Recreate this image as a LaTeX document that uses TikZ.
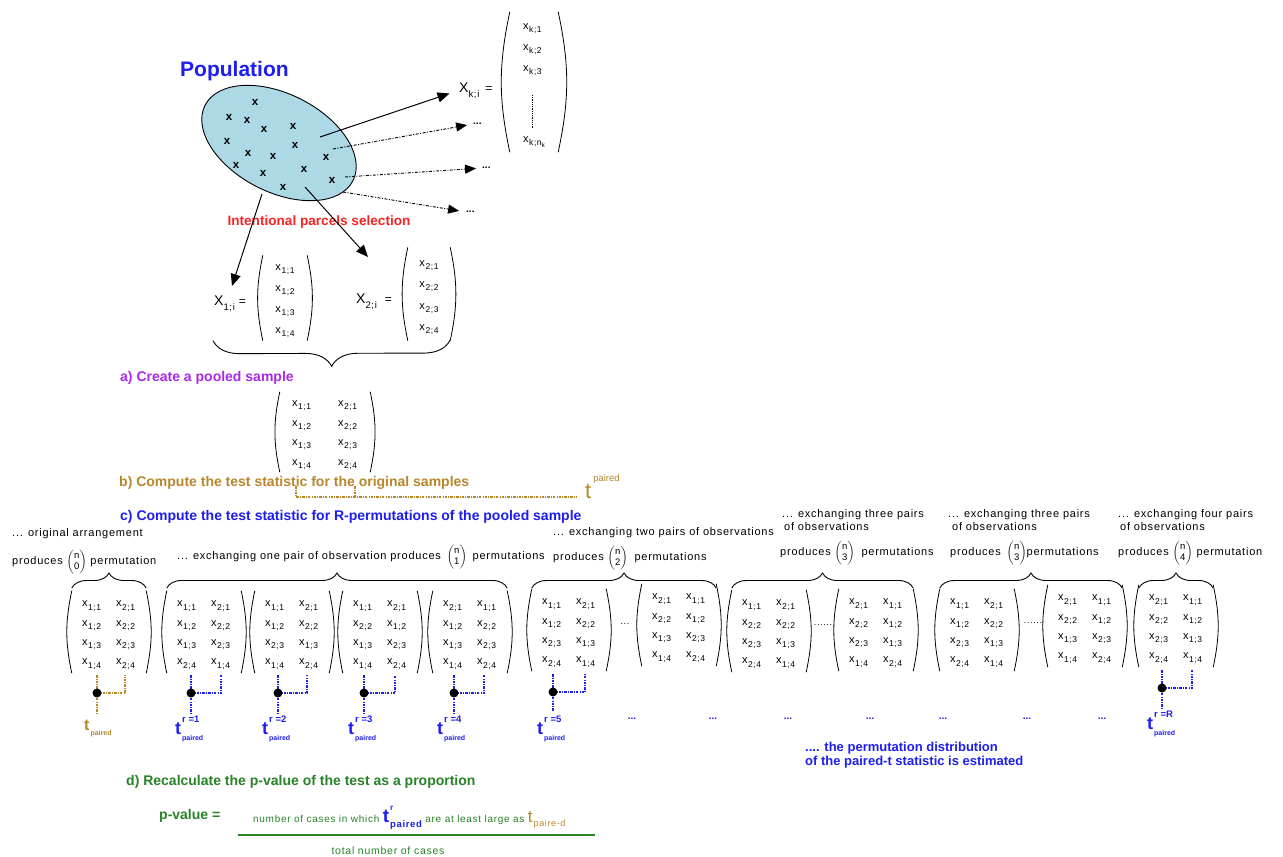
\documentclass[tikz,border=0pt]{standalone}
\usepackage{fontspec}
\setmainfont{Liberation Sans}
\newfontfamily\ls[LetterSpace=7]{Liberation Sans}
\usetikzlibrary{shapes.geometric,arrows.meta,decorations.pathreplacing,calc}
\definecolor{popblue}{RGB}{30,30,240}
\definecolor{selred}{RGB}{250,35,35}
\definecolor{purp}{RGB}{170,40,235}
\definecolor{tbrown}{RGB}{184,134,43}
\definecolor{dgreen}{RGB}{40,130,40}
\definecolor{ellfill}{RGB}{173,216,230}
\newcommand\xs[1]{{\fontsize{11}{11}\selectfont x}\kern0.6pt\raisebox{-3.2pt}{\fontsize{8.5}{8.5}\selectfont #1}}
\newcommand\mtwo[8]{\begin{tabular}{@{}p{34pt}@{}p{20pt}@{}}\xs{#1}&\xs{#2}\\\xs{#3}&\xs{#4}\\\xs{#5}&\xs{#6}\\\xs{#7}&\xs{#8}\end{tabular}}
\newcommand\bnm[1]{$\left(\vcenter{\hbox{\fontsize{9.5}{11}\selectfont\begin{tabular}{@{}c@{}}n\\#1\end{tabular}}}\right)$}
\newcommand\tlab[2]{{\fontsize{18}{18}\selectfont t}\kern1pt\rlap{\raisebox{12pt}{\fontsize{9.5}{9.5}\selectfont #1}}\raisebox{-6pt}{\fontsize{7}{7}\selectfont #2}}
\begin{document}
\begin{tikzpicture}[x=1pt,y=-1pt,
  every node/.style={inner sep=0pt},
  pline/.style={draw=black, line width=0.8pt},
  pmat/.style={append after command={(\tikzlastnode.north west) edge[pline, bend right=#1] (\tikzlastnode.south west) (\tikzlastnode.north east) edge[pline, bend left=#1] (\tikzlastnode.south east)}},
  pmat/.default=12,
  rowmat/.style={pmat, minimum width=74, minimum height=82, font=\ls\fontsize{10}{19.3}\selectfont},
  colmat/.style={pmat, font=\ls\fontsize{10}{21}\selectfont},
  brc/.style={decorate, decoration={brace, amplitude=15pt}, line width=0.9pt},
  solidarr/.style={line width=1pt, -{Triangle[length=12pt,width=10pt]}},
  dotarr/.style={line width=0.9pt, dash pattern=on 3pt off 1.5pt on 1pt off 1.5pt, -{Triangle[length=11pt,width=9pt]}},
  tl/.style={line width=1.5pt, dash pattern=on 2.5pt off 1.2pt on 0.8pt off 1.2pt},
  dotn/.style={circle, fill=black, minimum size=9pt},
  hdr/.style={anchor=west, font=\ls\fontsize{11}{12}\selectfont},
  bigl/.style={anchor=west, font=\bfseries\fontsize{14}{16}\selectfont},
  xm/.style={font=\bfseries\fontsize{11.5}{11.5}\selectfont},
  dd/.style={anchor=west, font=\bfseries\fontsize{10}{10}\selectfont},
  bdash/.style={text=popblue, font=\bfseries\fontsize{10}{10}\selectfont},
  tblue/.style={anchor=base west, text=popblue, font=\bfseries},
]
\fill[white] (0,0) rectangle (1283,857);
\useasboundingbox (0,0) rectangle (1283,857);

% population
\node[anchor=west, text=popblue, font=\bfseries\fontsize{21}{24}\selectfont] (poptitle) at (180,71) {Population};
\node[ellipse, draw, line width=0.9pt, fill=ellfill, minimum width=166pt, minimum height=98pt, rotate=-27] (pop) at (279,143) {};
\foreach \p [count=\i] in {(255,102),(229,117),(247,120),(264,129),(293,126),(227,141),(295,145),(248,153),(273,156),(326,157),(236,165),(263,173),(304,169),(332,180),(283,187)}
  \node[xm] (xm\i) at \p {x};

% X_{k;i}
\node[anchor=base west, font=\ls] (xklab) at (459,92) {{\fontsize{14}{14}\selectfont X}\raisebox{-5pt}{\fontsize{9.5}{9.5}\selectfont k;i}\hspace{6pt}{\fontsize{12}{12}\selectfont =}};
\node[colmat=10, minimum width=48, minimum height=140] (Xk) at (534,82) {\begin{tabular}{@{}l@{}}\xs{k;1}\\\xs{k;2}\\\xs{k;3}\\[50pt]{\fontsize{11}{11}\selectfont x}\kern0.6pt\raisebox{-3.2pt}{\fontsize{8.5}{8.5}\selectfont k;n\raisebox{-2pt}{\fontsize{6.5}{6.5}\selectfont k}}\end{tabular}};
\draw[line width=0.8pt, densely dotted] ($(Xk.center)+(-2,13)$) -- ($(Xk.center)+(-2,46)$);

\node[dd] (dd1) at (473,124) {...};
\node[dd] (dd2) at (482,168) {...};
\node[dd] (dd3) at (466,212) {...};
\coordinate (sa) at (320,137);
\coordinate (sd1) at (333,149);
\coordinate (sd2) at (345,177);
\coordinate (sd3) at (343,192);
\draw[solidarr, shorten >=10pt] (sa) -- (xklab.west);
\draw[dotarr, shorten >=6pt] (sd1) -- (dd1.west);
\draw[dotarr, shorten >=6pt] (sd2) -- (dd2.west);
\draw[dotarr, shorten >=7pt] (sd3) -- (dd3.west);

\node[text=selred, font=\bfseries\fontsize{13.6}{15}\selectfont] (sel) at (319,222) {Intentional parcels selection};

% X1, X2
\node[anchor=base west, font=\ls] (x1lab) at (214,305) {{\fontsize{14}{14}\selectfont X}\raisebox{-5pt}{\fontsize{9.5}{9.5}\selectfont 1;i}\hspace{4pt}{\fontsize{12}{12}\selectfont =}};
\node[anchor=base west, font=\ls] (x2lab) at (356,303) {{\fontsize{14}{14}\selectfont X}\raisebox{-5pt}{\fontsize{9.5}{9.5}\selectfont 2;i}\hspace{8pt}{\fontsize{12}{12}\selectfont =}};
\node[colmat, minimum width=44, minimum height=85] (X1) at (285,298) {\begin{tabular}{@{}l@{}}\xs{1;1}\\\xs{1;2}\\\xs{1;3}\\\xs{1;4}\end{tabular}};
\node[colmat, minimum width=42, minimum height=93, font=\ls\fontsize{10}{21.5}\selectfont] (X2) at (429,294) {\begin{tabular}{@{}l@{}}\xs{2;1}\\\xs{2;2}\\\xs{2;3}\\\xs{2;4}\end{tabular}};
\coordinate (sl) at (262,194);
\coordinate (tlft) at (232,286);
\coordinate (sr) at (305,187);
\coordinate (trt) at (368,257);
\draw[solidarr] (sl) -- (tlft);
\draw[solidarr] (sr) -- (trt);
\draw[brc, decoration={amplitude=26pt}] (X2.south east |- 0,340) -- (X1.south west -| 213,0);

% a) pooled
\node[bigl, text=purp] (alab) at (120,378) {a) Create a pooled sample};
\node[pmat, minimum width=90, minimum height=80, font=\ls\fontsize{10}{19.5}\selectfont] (P) at (325,432) {\begin{tabular}{@{}p{46pt}@{}p{20pt}@{}}\xs{1;1}&\xs{2;1}\\\xs{1;2}&\xs{2;2}\\\xs{1;3}&\xs{2;3}\\\xs{1;4}&\xs{2;4}\end{tabular}};

% b)
\node[bigl, text=tbrown] (blab) at (119,483) {b) Compute the test statistic for the original samples};
\node[anchor=base west, text=tbrown] (tpr) at (585,498) {{\fontsize{22}{22}\selectfont t}\kern2pt\raisebox{17pt}{\fontsize{9.5}{9.5}\selectfont paired}};
\coordinate (pb1) at (296,486);
\coordinate (pb2) at (355,486);
\coordinate (pbend) at (577,497);
\draw[tl, line width=1.1pt, tbrown] (pb1) |- (pbend);
\draw[tl, line width=1.1pt, tbrown] (pb2) -- (pb2 |- pbend);

% c)
\node[bigl, text=popblue] (clab) at (120,517) {c) Compute the test statistic for R-permutations of the pooled sample};

\node[hdr] (h1a) at (12,534) {... original arrangement};
\node[hdr] (h1b) at (12,562) {produces \bnm{0} permutation};
\node[hdr] (h2) at (177,557) {... exchanging one pair of observation produces \hspace{2pt}\bnm{1}\hspace{2pt} permutations};
\node[hdr] (h3a) at (553,533) {... exchanging two pairs of observations};
\node[hdr] (h3b) at (553,558) {produces \bnm{2}\hspace{3pt} permutations};
\node[hdr] (h4a) at (782,515) {... exchanging three pairs};
\node[hdr] (h4b) at (784,527) {of observations};
\node[hdr] (h4c) at (780,553) {produces \bnm{3}\hspace{3pt} permutations};
\node[hdr] (h5a) at (948,515) {... exchanging three pairs};
\node[hdr] (h5b) at (952,527) {of observations};
\node[hdr] (h5c) at (950,553) {produces \hspace{2pt}\bnm{3}permutations};
\node[hdr] (h6a) at (1118,515) {... exchanging four pairs};
\node[hdr] (h6b) at (1120,527) {of observations};
\node[hdr] (h6c) at (1118,553) {produces \bnm{4} permutation};

% permutation matrices
\node[rowmat] (M1) at (109,632) {\mtwo{1;1}{2;1}{1;2}{2;2}{1;3}{2;3}{1;4}{2;4}};
\node[rowmat] (M2) at (204,632) {\mtwo{1;1}{2;1}{1;2}{2;2}{1;3}{2;3}{2;4}{1;4}};
\node[rowmat] (M3) at (292,632) {\mtwo{1;1}{2;1}{1;2}{2;2}{2;3}{1;3}{1;4}{2;4}};
\node[rowmat] (M4) at (380,632) {\mtwo{1;1}{2;1}{2;2}{1;2}{1;3}{2;3}{1;4}{2;4}};
\node[rowmat] (M5) at (470,632) {\mtwo{2;1}{1;1}{1;2}{2;2}{1;3}{2;3}{1;4}{2;4}};
\node[rowmat] (M6) at (569,630) {\mtwo{1;1}{2;1}{1;2}{2;2}{2;3}{1;3}{2;4}{1;4}};
\node[rowmat] (M7) at (679,625) {\mtwo{2;1}{1;1}{2;2}{1;2}{1;3}{2;3}{1;4}{2;4}};
\node[rowmat] (M8) at (769,631) {\mtwo{1;1}{2;1}{2;2}{2;2}{2;3}{1;3}{2;4}{1;4}};
\node[rowmat] (M9) at (876,630) {\mtwo{2;1}{1;1}{2;2}{1;2}{2;3}{1;3}{1;4}{2;4}};
\node[rowmat] (M10) at (977,630) {\mtwo{1;1}{2;1}{1;2}{2;2}{2;3}{1;3}{2;4}{1;4}};
\node[rowmat] (M11) at (1085,626) {\mtwo{2;1}{1;1}{2;2}{1;2}{1;3}{2;3}{1;4}{2;4}};
\node[rowmat] (M12) at (1176,626) {\mtwo{2;1}{1;1}{2;2}{1;2}{2;3}{1;3}{2;4}{1;4}};

\node[font=\ls\fontsize{9}{9}\selectfont] (e67) at (625,624) {...};
\node[font=\ls\fontsize{9}{9}\selectfont] (e89) at (823,625) {......};
\node[font=\ls\fontsize{9}{9}\selectfont] (e1011) at (1033,623) {......};

% braces
\draw[brc] (M1.north west |- 0,588) -- (M1.north east |- 0,588);
\draw[brc] (M2.north west |- 0,588) -- (M5.north east |- 0,588);
\draw[brc] (M6.north west |- 0,588) -- (M7.north east |- 0,588);
\draw[brc] (M8.north west |- 0,588) -- (M9.north east |- 0,588);
\draw[brc] (M10.north west |- 0,588) -- (M11.north east |- 0,588);
\draw[brc] (M12.north west |- 0,588) -- (M12.north east |- 0,588);

% links
\foreach \m/\d/\c/\y/\e/\col in {1/97/125/693/713/tbrown, 2/191/221/693/713/popblue, 3/278/307/693/713/popblue, 4/364/395/693/713/popblue, 5/454/484/693/713/popblue, 6/553/585/692/711/popblue, 12/1162/1192/688/708/popblue}{
  \coordinate (C\m) at (\c,{\y-18});
  \coordinate (E\m) at (\d,\e);
  \draw[tl, \col] (E\m |- C\m) -- (E\m);
  \draw[tl, \col] (\d,\y) -| (C\m);
  \node[dotn] (D\m) at (\d,\y) {};
}
\node[anchor=base west, text=tbrown, font=\bfseries] (L1) at (84,730) {{\fontsize{16}{16}\selectfont t}\kern1pt\raisebox{-5pt}{\fontsize{7}{7}\selectfont paired}};
\node[tblue] (L2) at (175,734) {\tlab{r =1}{paired}};
\node[tblue] (L3) at (262,734) {\tlab{r =2}{paired}};
\node[tblue] (L4) at (348,734) {\tlab{r =3}{paired}};
\node[tblue] (L5) at (437,734) {\tlab{r =4}{paired}};
\node[tblue] (L6) at (537,734) {\tlab{r =5}{paired}};
\node[tblue] (L12) at (1147,729) {\tlab{r =R}{paired}};
\foreach \x [count=\i] in {632,713,788,870,943,1027,1102}
  \node[bdash] (bd\i) at (\x,719) {...};

\node[anchor=west, align=left, text=popblue, font=\bfseries\fontsize{13}{14}\selectfont] (dist) at (805,755) {.... the permutation distribution\\of the paired-t statistic is estimated};

% d)
\node[bigl, text=dgreen] (dlab) at (126,782) {d) Recalculate the p-value of the test as a proportion};
\node[anchor=base west, text=dgreen, font=\bfseries\fontsize{14}{16}\selectfont] (pv) at (159,819) {p-value =};
\node[anchor=base west, text=dgreen, font=\ls\fontsize{10}{11}\selectfont] (num) at (253,822) {number of cases in which \textcolor{popblue}{\bfseries{\fontsize{19}{19}\selectfont t}\kern1pt\rlap{\raisebox{12pt}{\fontsize{8}{8}\selectfont r}}\raisebox{-5pt}{\fontsize{9.5}{9.5}\selectfont paired}} are at least large as \textcolor{tbrown}{{\fontsize{17}{17}\selectfont t}\kern1pt\raisebox{-4pt}{\fontsize{9}{9}\selectfont paire-d}}};
\coordinate (fl) at (238,835);
\coordinate (fr) at (595,835);
\draw[dgreen, line width=1.3pt] (fl) -- (fr);
\node[text=dgreen, font=\ls\fontsize{10.5}{11}\selectfont] (den) at (388,851) {total number of cases};
\end{tikzpicture}
\end{document}
